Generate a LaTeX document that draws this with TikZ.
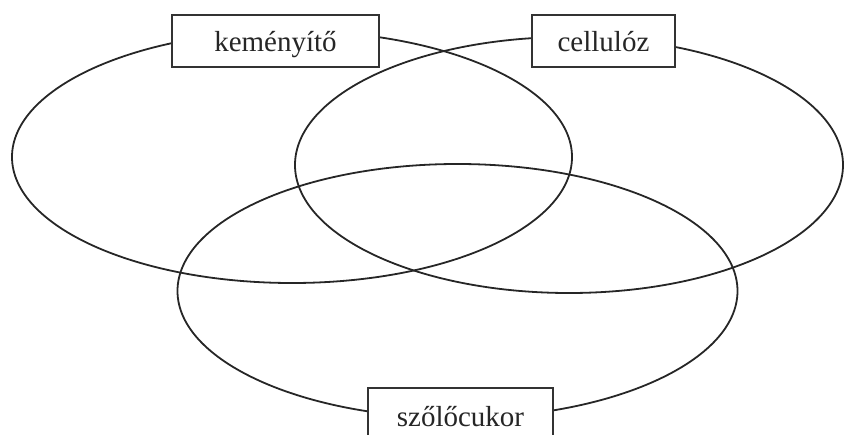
\documentclass[tikz,border=0pt]{standalone}
\usepackage{fontspec}
\setmainfont{Liberation Serif}
\begin{document}
\begin{tikzpicture}[x=1pt,y=-1pt,
  ring/.style={draw=black!85,line width=1.8pt},
  label/.style={draw=black!80,line width=1.8pt,fill=white,inner sep=0pt,
    font=\fontsize{29}{32}\selectfont,text height=20pt,text depth=0pt,
    text=black!85}]
\useasboundingbox (0,0) rectangle (849,434);
\clip (0,0) rectangle (849,434);
\draw[ring] (292,157) ellipse [x radius=280, y radius=126];
\draw[ring] (569,165) ellipse [x radius=274, y radius=128];
\draw[ring] (457.5,291) ellipse [x radius=280, y radius=127];
\node[label,minimum width=207pt,minimum height=52pt] (kem) at (275.5,41) {keményítő};
\node[label,minimum width=143pt,minimum height=52pt] (cel) at (603.5,41) {cellulóz};
\node[label,minimum width=185pt,minimum height=56pt] (szo) at (460.5,416) {szőlőcukor};
\end{tikzpicture}
\end{document}
